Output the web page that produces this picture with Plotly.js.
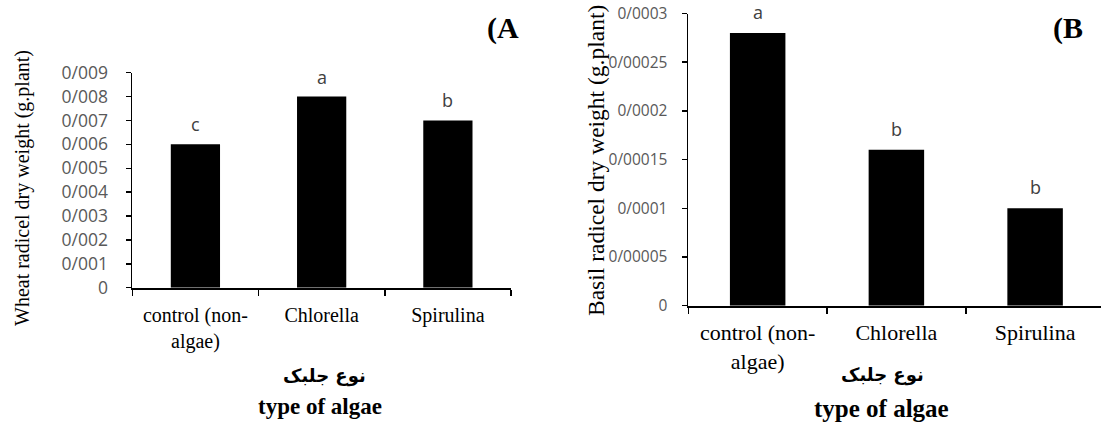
<!DOCTYPE html>
<html>
<head>
<meta charset="utf-8">
<script src="https://cdn.plot.ly/plotly-3.0.1.min.js"></script>
<style>html,body{margin:0;padding:0;background:#fff;}#chart{width:1101px;height:427px;}</style>
</head>
<body>
<div id="chart"></div>
<script>
const categories = ["control (non-<br>algae)", "Chlorella", "Spirulina"];
const wheatValues = [0.006, 0.008, 0.007];
const wheatLetters = ["c", "a", "b"];
const basilValues = [0.00028, 0.00016, 0.0001];
const basilLetters = ["a", "b", "b"];
const wheatTickVals = [0, 0.001, 0.002, 0.003, 0.004, 0.005, 0.006, 0.007, 0.008, 0.009];
const wheatTickText = ["0", "0/001", "0/002", "0/003", "0/004", "0/005", "0/006", "0/007", "0/008", "0/009"];
const basilTickVals = [0, 0.00005, 0.0001, 0.00015, 0.0002, 0.00025, 0.0003];
const basilTickText = ["0", "0/00005", "0/0001", "0/00015", "0/0002", "0/00025", "0/0003"];

const W = 1101, H = 427;
const px = v => v / W;
const py = v => 1 - v / H;
const serif = "Liberation Serif, Times New Roman, serif";
const sans = "Open Sans, Calibri, sans-serif";
const arab = "DejaVu Sans, sans-serif";

const traces = [
  {type: "bar", x: categories, y: wheatValues, xaxis: "x", yaxis: "y", width: 0.39,
   marker: {color: "#000000", line: {width: 0}}},
  {type: "bar", x: categories, y: basilValues, xaxis: "x2", yaxis: "y2", width: 0.4,
   marker: {color: "#000000", line: {width: 0}}}
];

const annotations = [];
categories.forEach((c, i) => {
  annotations.push({x: c, y: wheatValues[i], xref: "x", yref: "y", text: wheatLetters[i],
    showarrow: false, xanchor: "center", yanchor: "bottom", yshift: 6,
    font: {family: sans, size: 18, color: "#404040"}});
  annotations.push({x: c, y: basilValues[i], xref: "x2", yref: "y2", text: basilLetters[i],
    showarrow: false, xanchor: "center", yanchor: "bottom", yshift: 7,
    font: {family: sans, size: 18, color: "#404040"}});
});
function label(text, x, y, font, angle) {
  annotations.push({text: text, x: px(x), y: py(y), xref: "paper", yref: "paper",
    xanchor: "center", yanchor: "middle", textangle: angle || 0, showarrow: false, font: font});
}
label("Wheat radicel dry weight (g.plant)", 22, 188, {family: serif, size: 20, color: "#000"}, -90);
label("Basil radicel dry weight (g.plant)", 596, 161, {family: serif, size: 23.5, color: "#000"}, -90);
label("نوع جلبک", 325, 376, {family: arab, size: 18, color: "#000", weight: "bold"});
label("<b>type of algae</b>", 320, 406, {family: serif, size: 23, color: "#000"});
label("نوع جلبک", 882, 375, {family: arab, size: 18, color: "#000", weight: "bold"});
label("<b>type of algae</b>", 881, 408, {family: serif, size: 25, color: "#000"});
label("<b>(A</b>", 503, 28, {family: serif, size: 30, color: "#000"});
label("<b>(B</b>", 1068, 28, {family: serif, size: 30, color: "#000"});

const xCommon = {type: "category", tickson: "boundaries", ticks: "outside", ticklen: 6, tickwidth: 1.5,
  tickcolor: "#000", showline: true, linecolor: "#000", linewidth: 1.8, showgrid: false, zeroline: false,
  fixedrange: true};
const yCommon = {ticks: "outside", ticklen: 5, tickwidth: 1.5, tickcolor: "#000", showline: true,
  linecolor: "#000", linewidth: 1.8, showgrid: false, zeroline: false, fixedrange: true};

const layout = {
  width: W, height: H, margin: {l: 0, r: 0, t: 0, b: 0},
  paper_bgcolor: "#fff", plot_bgcolor: "#fff", showlegend: false,
  xaxis: Object.assign({}, xCommon, {domain: [px(132.3), px(511)], anchor: "y", range: [-0.5, 2.5],
    ticklabelstandoff: 8, tickfont: {family: serif, size: 20, color: "#000"}}),
  yaxis: Object.assign({}, yCommon, {domain: [py(287.7), py(72.7)], anchor: "x", range: [0, 0.009],
    tickvals: wheatTickVals, ticktext: wheatTickText, ticklabelstandoff: 14,
    tickfont: {family: sans, size: 17.5, color: "#595959"}}),
  xaxis2: Object.assign({}, xCommon, {domain: [px(688.3), 1], anchor: "y2", range: [-0.5, 2.475],
    ticklabelstandoff: 6, tickfont: {family: serif, size: 22, color: "#000"}}),
  yaxis2: Object.assign({}, yCommon, {domain: [py(305.7), py(13.5)], anchor: "x2", range: [0, 0.0003],
    tickvals: basilTickVals, ticktext: basilTickText, ticklabelstandoff: 11,
    tickfont: {family: sans, size: 15.5, color: "#595959"}}),
  annotations: annotations
};

Plotly.newPlot("chart", traces, layout, {displayModeBar: false, staticPlot: true});
</script>
</body>
</html>
